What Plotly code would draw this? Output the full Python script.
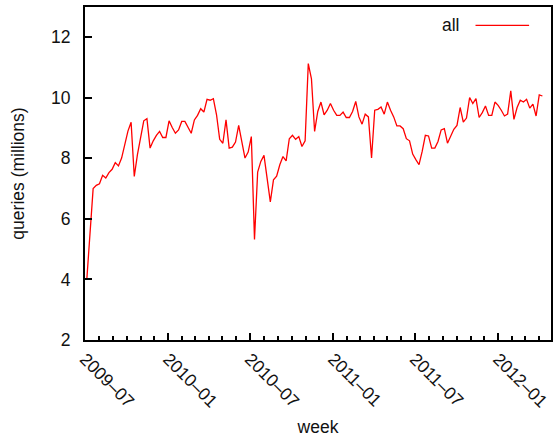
import pandas as pd
import plotly.graph_objects as go

# Weekly query volume, in millions (None = no distinct reading that week)
start_week = "2009-07-05"
queries_all = [
    4.0, None, 7.0, 7.11, 7.16, 7.44, 7.35, 7.53, 7.64, 7.86,
    7.75, 8.01, 8.45, 8.9, 9.19, 7.4, 8.12, 8.67, 9.24, 9.31,
    8.34, 8.58, 8.76, 8.89, 8.69, 8.69, 9.24, 9.02, 8.83, 8.94,
    9.22, 9.22, 9.04, 8.83, 9.27, 9.42, 9.64, 9.53, 9.95, 9.92,
    9.97, 9.44, 8.63, 8.5, 9.27, 8.34, 8.37, 8.54, 9.09, 8.55,
    8.01, 8.21, 8.72, 5.32, 7.55, 7.9, 8.1, None, 6.56, 7.29,
    7.41, 7.79, 8.06, 7.92, 8.65, 8.76, 8.63, 8.72, 8.39, 8.58,
    11.13, 10.63, 8.89, 9.55, 9.86, 9.44, 9.59, 9.81, 9.59, 9.42,
    9.42, 9.53, 9.35, 9.35, 9.55, 9.88, 9.37, 9.13, 9.46, 9.37,
    8.01, 9.59, 9.62, 9.7, 9.46, 9.86, 9.59, 9.37, 9.07, 9.07,
    8.98, 8.65, 8.58, 8.14, 7.96, 7.79, 8.23, 8.76, 8.74, 8.34,
    8.34, 8.56, 8.94, 8.98, 8.5, 8.74, 8.96, 9.09, 9.68, 9.2,
    9.33, 10.01, 9.81, 9.97, 9.35, 9.51, 9.73, 9.42, 9.42, 9.86,
    9.75, 9.59, 9.4, 9.46, 10.23, 9.29, 9.68, 9.92, 9.86, 9.95,
    9.66, 9.79, 9.4, 10.1, 10.06,
]
weeks = pd.date_range(start_week, periods=len(queries_all), freq="7D")

series_name = "all"
y_ticks = [2, 4, 6, 8, 10, 12]

font_family = "Liberation Sans, Arial, Helvetica, sans-serif"
fs = 17.5

fig = go.Figure()
fig.add_trace(go.Scatter(
    x=weeks, y=queries_all, mode="lines", name=series_name,
    line=dict(color="#ff0000", width=1.3), connectgaps=True,
    showlegend=False,
))

# gnuplot-style key: label followed by a line sample, top right
fig.add_annotation(
    xref="paper", yref="paper", x=0.81, y=0.945, text=series_name,
    showarrow=False, xanchor="right", yanchor="middle",
    font=dict(size=fs, color="#111", family=font_family),
)
fig.add_shape(
    type="line", xref="paper", yref="paper", x0=0.838, x1=0.953,
    y0=0.945, y1=0.945, line=dict(color="#ff0000", width=1.3),
)

axis_common = dict(
    showline=True, linecolor="#000", linewidth=2, mirror=True,
    showgrid=False, zeroline=False, ticks="inside", tickcolor="#000",
    tickwidth=2, tickfont=dict(size=fs, color="#111", family=font_family),
)

fig.update_layout(
    width=556, height=437,
    margin=dict(l=85, r=3, t=7, b=94),
    paper_bgcolor="white", plot_bgcolor="white",
    font=dict(family=font_family, color="#111"),
    xaxis=dict(
        **axis_common,
        type="date",
        range=["2009-07-01", "2012-04-27"],
        tick0="2009-07-01", dtick="M6", tickformat="%Y\u2013%m",
        ticklen=7, tickangle=45,
        minor=dict(dtick="M1", ticks="inside", ticklen=4,
                   tickwidth=2, tickcolor="#000"),
        title=dict(text="week", font=dict(size=fs, family=font_family),
                   standoff=10),
    ),
    yaxis=dict(
        **axis_common,
        range=[2, 13], tickvals=y_ticks, ticklen=7,
        ticklabelstandoff=9,
        title=dict(text="queries (millions)",
                   font=dict(size=fs, family=font_family), standoff=22),
    ),
)

fig.write_html("out.html")
